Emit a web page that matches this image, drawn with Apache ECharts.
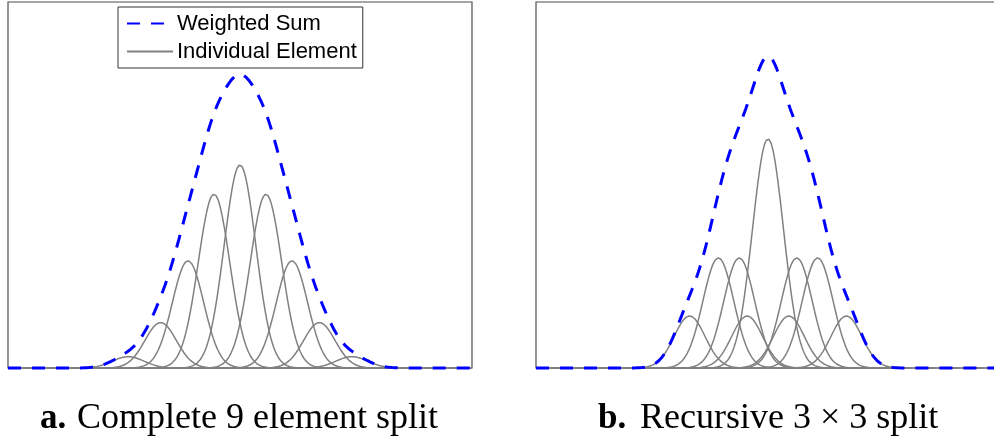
<!DOCTYPE html>
<html>
<head>
<meta charset="utf-8">
<script src="https://cdn.jsdelivr.net/npm/echarts@6/dist/echarts.min.js"></script>
<style>
  html, body { margin: 0; padding: 0; background: #fff; }
  #chart { width: 994px; height: 439px; }
</style>
</head>
<body>
<div id="chart"></div>
<script>
// Axis domain shared by both panels
const xDomain = [-5, 5];
const yDomain = [0, 1];

// Panel a: complete 9 element split (element means, peak heights, common sigma)
const elementMeansA = [-2.41, -1.71, -1.12, -0.56, 0, 0.56, 1.12, 1.71, 2.41];
const elementPeaksA = [0.031, 0.124, 0.293, 0.475, 0.555, 0.475, 0.293, 0.124, 0.031];
const elementSigmaA = 0.34;

// Panel b: recursive 3 x 3 split
const elementMeansB = [-1.69, -1.07, -0.62, -0.45, 0, 0.45, 0.62, 1.07, 1.69];
const elementPeaksB = [0.142, 0.301, 0.301, 0.142, 0.626, 0.142, 0.301, 0.301, 0.142];
const elementSigmaB = 0.334;

// Legend / caption texts
const legendNames = ['Weighted Sum', 'Individual Element'];
const captionLabels = ['a.', 'b.'];
const captionTexts = ['Complete 9 element split', 'Recursive 3 \u00d7 3 split'];

// evaluation abscissae for the mixture components
const xs = [];
for (let i = 0; i <= 500; i++) xs.push(xDomain[0] + (xDomain[1] - xDomain[0]) * i / 500);

function gaussian(x, mu, peak, sigma) {
  const d = (x - mu) / sigma;
  return peak * Math.exp(-0.5 * d * d);
}

function panelSeries(means, peaks, sigma, axisIndex) {
  const out = [];
  const sum = xs.map(() => 0);
  means.forEach((mu, k) => {
    const data = xs.map((x, i) => {
      const v = gaussian(x, mu, peaks[k], sigma);
      sum[i] += v;
      return [x, v];
    });
    out.push({
      name: legendNames[1], type: 'line', xAxisIndex: axisIndex, yAxisIndex: axisIndex,
      data: data, symbol: 'none', clip: false, z: 2, silent: true,
      lineStyle: { color: '#808080', width: 1.5 },
      itemStyle: { color: '#808080' }
    });
  });
  out.push({
    name: legendNames[0], type: 'line', xAxisIndex: axisIndex, yAxisIndex: axisIndex,
    data: xs.map((x, i) => [x, sum[i]]), symbol: 'none', clip: false, z: 3, silent: true,
    lineStyle: { color: '#0000ff', width: 3, type: [13, 11] },
    itemStyle: { color: '#0000ff' }
  });
  return out;
}

const axisCommon = {
  type: 'value', min: xDomain[0], max: xDomain[1],
  axisLine: { show: false }, axisTick: { show: false }, axisLabel: { show: false },
  splitLine: { show: false }
};
const yAxisCommon = {
  type: 'value', min: yDomain[0], max: yDomain[1],
  axisLine: { show: false }, axisTick: { show: false }, axisLabel: { show: false },
  splitLine: { show: false }
};

const gridStyle = {
  show: true, borderColor: '#4d4d4d', borderWidth: 1.2, backgroundColor: '#fff',
  containLabel: false, outerBoundsMode: 'none'
};

const chart = echarts.init(document.getElementById('chart'), null, { renderer: 'canvas' });
chart.setOption({
  animation: false,
  backgroundColor: '#fff',
  grid: [
    Object.assign({ left: 8, top: 2, width: 464, height: 366 }, gridStyle),
    Object.assign({ left: 536, top: 2, width: 464, height: 366 }, gridStyle)
  ],
  xAxis: [Object.assign({ gridIndex: 0 }, axisCommon), Object.assign({ gridIndex: 1 }, axisCommon)],
  yAxis: [Object.assign({ gridIndex: 0 }, yAxisCommon), Object.assign({ gridIndex: 1 }, yAxisCommon)],
  legend: {
    data: legendNames,
    orient: 'vertical',
    left: 118, top: 7,
    itemWidth: 46, itemHeight: 14, itemGap: 5,
    padding: [5, 6, 5, 8],
    borderColor: '#333', borderWidth: 1, borderRadius: 0,
    backgroundColor: '#fff',
    selectedMode: false,
    itemStyle: { opacity: 0 },
    textStyle: { fontFamily: 'Liberation Sans', fontSize: 22, color: '#000', lineHeight: 23, padding: [0, 0, 0, -1] }
  },
  series: [].concat(
    panelSeries(elementMeansA, elementPeaksA, elementSigmaA, 0),
    panelSeries(elementMeansB, elementPeaksB, elementSigmaB, 1)
  ),
  graphic: [
    { type: 'text', x: 40, y: 419, style: { text: captionLabels[0], font: 'bold 35px "Liberation Serif"', fill: '#000', verticalAlign: 'middle' } },
    { type: 'text', x: 77, y: 419, style: { text: captionTexts[0], font: '36px "Liberation Serif"', fill: '#000', verticalAlign: 'middle' } },
    { type: 'text', x: 598, y: 419, style: { text: captionLabels[1], font: 'bold 35px "Liberation Serif"', fill: '#000', verticalAlign: 'middle' } },
    { type: 'text', x: 640, y: 419, style: { text: captionTexts[1], font: '36px "Liberation Serif"', fill: '#000', verticalAlign: 'middle' } }
  ]
});
</script>
</body>
</html>
